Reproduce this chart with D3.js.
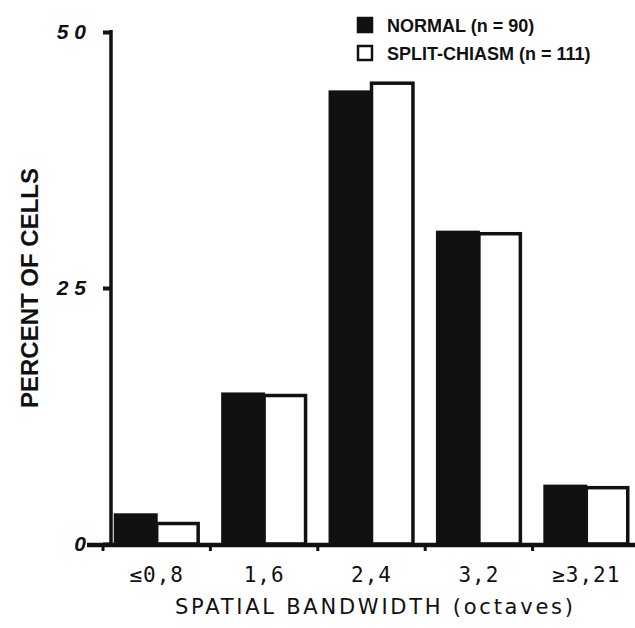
<!DOCTYPE html>
<html>
<head>
<meta charset="utf-8">
<script src="https://cdn.jsdelivr.net/npm/d3@7"></script>
<style>
  html, body { margin: 0; padding: 0; background: #fff; }
  svg { display: block; }
</style>
</head>
<body>
<svg id="chart" width="635" height="628"></svg>
<script>
// Distribution of spatial bandwidths (octaves), percent of cells per group
const categories = ["\u22640,8", "1,6", "2,4", "3,2", "\u22653,21"];
const normal = [3.0, 14.8, 44.3, 30.6, 5.8];
const splitChiasm = [2.0, 14.5, 45.0, 30.3, 5.5];
const yTicks = [0, 25, 50];
const seriesNames = ["NORMAL (n = 90)", "SPLIT-CHIASM (n = 111)"];

const svg = d3.select("#chart");
const ink = "#111";

const y = d3.scaleLinear().domain([0, 50]).range([544, 32]);
const x = d3.scaleBand().domain(categories).range([103, 640]).paddingInner(0.2).paddingOuter(0.1);
const sub = d3.scaleBand().domain([0, 1]).range([0, x.bandwidth()]);

// bars
const groups = svg.append("g").selectAll("g")
  .data(categories.map((c, i) => ({ c, vals: [normal[i], splitChiasm[i]] })))
  .join("g")
  .attr("transform", d => `translate(${x(d.c)},0)`);

groups.append("rect")
  .attr("x", sub(0))
  .attr("width", sub.bandwidth() + 1)
  .attr("y", d => y(d.vals[0]))
  .attr("height", d => y(0) - y(d.vals[0]))
  .attr("fill", ink);

groups.append("rect")
  .attr("x", sub(1))
  .attr("width", sub.bandwidth() - 1.5)
  .attr("y", d => y(d.vals[1]))
  .attr("height", d => y(0) - y(d.vals[1]))
  .attr("fill", "#fff")
  .attr("stroke", ink)
  .attr("stroke-width", 3.5);

// y axis
const yAxisX = 111;
const yAxis = d3.axisLeft(y).tickValues(yTicks).tickSize(8).tickPadding(11).tickFormat(d3.format("d"));
const gy = svg.append("g").attr("transform", `translate(${yAxisX},0)`).call(yAxis);
gy.select(".domain").remove();
gy.append("line").attr("x1", 0).attr("x2", 0).attr("y1", y(50) - 2).attr("y2", y(0))
  .attr("stroke", ink).attr("stroke-width", 3.5);
gy.selectAll(".tick line").attr("stroke", ink).attr("stroke-width", 4);
gy.selectAll(".tick text")
  .attr("fill", ink)
  .attr("font-family", "Liberation Sans, Arial, sans-serif")
  .attr("font-weight", "bold")
  .attr("font-size", 21)
  .attr("letter-spacing", 6)
  .attr("font-style", "italic");

// x axis baseline with boundary ticks
const xAxis = d3.axisBottom(x).tickSize(0).tickPadding(23);
const gx = svg.append("g").attr("transform", `translate(0,${y(0)})`).call(xAxis);
gx.select(".domain").remove();
gx.append("line").attr("x1", 87).attr("x2", 635).attr("y1", 1).attr("y2", 1)
  .attr("stroke", ink).attr("stroke-width", 4.5);
const boundaries = categories.map(c => x(c) - x.step() * x.paddingInner() / 2);
gx.selectAll(".bound").data(boundaries).join("line")
  .attr("class", "bound")
  .attr("x1", d => d).attr("x2", d => d)
  .attr("y1", 0).attr("y2", 7)
  .attr("stroke", ink).attr("stroke-width", 3);
gx.selectAll(".tick text")
  .attr("fill", ink)
  .attr("font-family", "DejaVu Sans Mono, monospace")
  .attr("font-size", 21)
  .attr("letter-spacing", 1);

// axis titles
svg.append("text")
  .attr("x", 175).attr("y", 614)
  .attr("textLength", 398)
  .attr("lengthAdjust", "spacing")
  .attr("font-family", "DejaVu Sans, sans-serif")
  .attr("font-size", 21)
  .attr("fill", ink)
  .text("SPATIAL  BANDWIDTH  (octaves)");

svg.append("text")
  .attr("transform", "translate(38,288) rotate(-90)")
  .attr("text-anchor", "middle")
  .attr("font-family", "Liberation Sans, Arial, sans-serif")
  .attr("font-weight", "bold")
  .attr("font-size", 24)
  .attr("fill", ink)
  .text("PERCENT OF CELLS");

// legend
const legend = svg.append("g").attr("transform", "translate(357,17)");
const items = legend.selectAll("g").data(seriesNames).join("g")
  .attr("transform", (d, i) => `translate(0,${i * 28})`);
items.append("rect")
  .attr("x", 1).attr("y", 1).attr("width", 14).attr("height", 14)
  .attr("fill", (d, i) => i === 0 ? ink : "#fff")
  .attr("stroke", ink).attr("stroke-width", 2.5);
items.append("text")
  .attr("x", 30).attr("y", 15)
  .attr("font-family", "Liberation Sans Narrow, Liberation Sans, Arial, sans-serif")
  .attr("font-weight", "bold")
  .attr("font-size", 18)
  .attr("fill", ink)
  .text(d => d);
</script>
</body>
</html>
